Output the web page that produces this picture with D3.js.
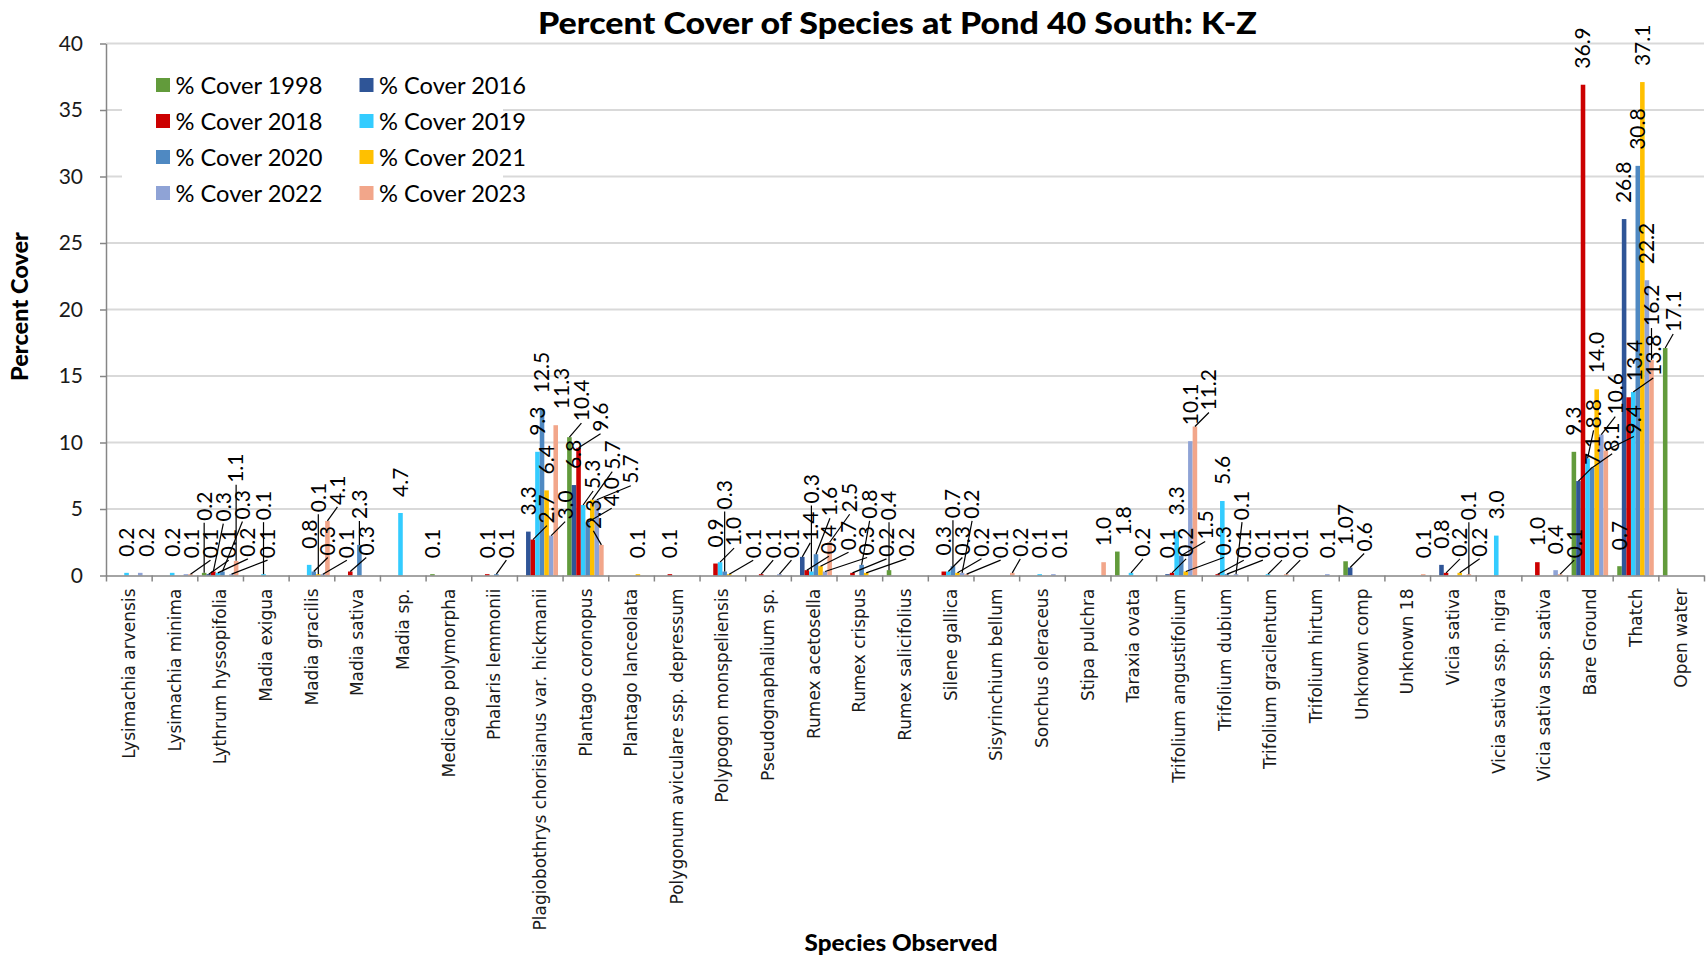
<!DOCTYPE html>
<html>
<head>
<meta charset="utf-8">
<script src="https://cdn.jsdelivr.net/npm/d3@7"></script>
<style>
  body { margin: 0; background: #fff; }
  svg { display: block; }
</style>
</head>
<body>
<svg id="chart" width="1707" height="958"></svg>
<script>
// ---- data ---------------------------------------------------------------
const species = [
  "Lysimachia arvensis", "Lysimachia minima", "Lythrum hyssopifolia", "Madia exigua",
  "Madia gracilis", "Madia sativa", "Madia sp.", "Medicago polymorpha", "Phalaris lemmonii",
  "Plagiobothrys chorisianus var. hickmanii", "Plantago coronopus", "Plantago lanceolata",
  "Polygonum aviculare ssp. depressum", "Polypogon monspeliensis", "Pseudognaphalium sp.",
  "Rumex acetosella", "Rumex crispus", "Rumex salicifolius", "Silene gallica",
  "Sisyrinchium bellum", "Sonchus oleraceus", "Stipa pulchra", "Taraxia ovata",
  "Trifolium angustifolium", "Trifolium dubium", "Trifolium gracilentum", "Trifolium hirtum",
  "Unknown comp", "Unknown 18", "Vicia sativa", "Vicia sativa ssp. nigra",
  "Vicia sativa ssp. sativa", "Bare Ground", "Thatch", "Open water"
];

const seriesNames = [
  "% Cover 1998", "% Cover 2016", "% Cover 2018", "% Cover 2019",
  "% Cover 2020", "% Cover 2021", "% Cover 2022", "% Cover 2023"
];

const seriesColors = ["#629b3b", "#2f5597", "#cc0000", "#33ccff", "#4f89c2", "#ffc000", "#8fa3d6", "#f2a68a"];

const yTicks = [0, 5, 10, 15, 20, 25, 30, 35, 40];

const cover1998 = [0, 0, 0.2, 0, 0, 0, 0, 0.1, 0, 0, 10.4, 0, 0, 0, 0, 0, 0, 0.4, 0, 0, 0, 0, 1.8, 0, 0, 0, 0, 1.07, 0, 0, 0, 0, 9.3, 0.7, 17.1];
const cover2016 = [0, 0, 0.1, 0, 0, 0, 0, 0, 0, 3.3, 6.8, 0, 0, 0, 0, 1.4, 0, 0, 0, 0, 0, 0, 0, 0.1, 0, 0, 0, 0.6, 0, 0.8, 0, 0, 7.1, 26.8, 0];
const cover2018 = [0, 0, 0.3, 0, 0, 0.3, 0, 0, 0.1, 2.7, 9.6, 0, 0.1, 0.9, 0.1, 0.4, 0.2, 0, 0.3, 0, 0, 0, 0, 0.2, 0.1, 0, 0, 0, 0, 0.2, 0, 1.0, 36.9, 13.4, 0];
const cover2019 = [0.2, 0.2, 0.2, 0.1, 0.8, 0, 4.7, 0, 0, 9.3, 5.3, 0, 0, 1.0, 0, 0.3, 0, 0, 0.3, 0, 0.1, 0, 0.2, 3.3, 5.6, 0.1, 0, 0, 0, 0, 3.0, 0, 8.8, 13.8, 0];
const cover2020 = [0, 0, 0.3, 0, 0.3, 2.3, 0, 0, 0.1, 12.5, 4.0, 0, 0, 0.3, 0, 1.6, 0.8, 0, 0.7, 0, 0, 0, 0, 1.5, 0.1, 0, 0, 0, 0, 0, 0, 0, 8.1, 30.8, 0];
const cover2021 = [0, 0, 0, 0, 0.1, 0, 0, 0, 0, 6.4, 5.7, 0.1, 0, 0.1, 0, 0.7, 0.2, 0, 0.2, 0, 0, 0, 0, 0.3, 0, 0, 0, 0, 0, 0.2, 0, 0, 14.0, 37.1, 0];
const cover2022 = [0.2, 0.1, 0.1, 0, 0.1, 0, 0, 0, 0, 3.0, 5.7, 0, 0, 0, 0.1, 0.3, 0, 0, 0.2, 0, 0.1, 0, 0, 10.1, 0.1, 0, 0.1, 0, 0, 0, 0, 0.4, 10.6, 22.2, 0];
const cover2023 = [0, 0.1, 1.1, 0, 4.1, 0, 0, 0, 0, 11.3, 2.3, 0, 0, 0, 0, 2.5, 0, 0, 0.1, 0.2, 0, 1.0, 0, 11.2, 0, 0.1, 0, 0, 0.1, 0.1, 0, 0.1, 9.4, 16.2, 0];

const seriesValues = [cover1998, cover2016, cover2018, cover2019, cover2020, cover2021, cover2022, cover2023];

// ---- layout -------------------------------------------------------------
const plot = { left: 106, right: 1704, top: 43.5, bottom: 575.5 };
const svg = d3.select("#chart");
const SANS = "Lato, 'Open Sans', sans-serif";

const x0 = d3.scaleBand().domain(species).range([plot.left, plot.right]);
const bw = x0.bandwidth();
const x1 = d3.scaleBand().domain(seriesNames).range([bw * 0.1, bw * 0.9]);
const y = d3.scaleLinear().domain([0, 40]).range([plot.bottom, plot.top]);

// horizontal gridlines
svg.append("g").selectAll("line")
  .data(yTicks.filter(t => t > 0))
  .join("line")
  .attr("x1", plot.left).attr("x2", plot.right)
  .attr("y1", d => y(d)).attr("y2", d => y(d))
  .attr("stroke", "#d9d9d9").attr("stroke-width", 2);

// clustered bars
const rows = species.map((s, i) => ({
  species: s,
  values: seriesNames.map((n, j) => ({ series: n, j, v: seriesValues[j][i] }))
}));

const gCat = svg.append("g").selectAll("g")
  .data(rows)
  .join("g")
  .attr("transform", d => `translate(${x0(d.species)},0)`);

gCat.selectAll("rect")
  .data(d => d.values.filter(e => e.v > 0))
  .join("rect")
  .attr("x", e => x1(e.series))
  .attr("width", x1.bandwidth())
  .attr("y", e => y(e.v))
  .attr("height", e => y(0) - y(e.v))
  .attr("fill", e => seriesColors[e.j]);

// y axis
const gy = svg.append("g")
  .attr("transform", `translate(${plot.left},0)`)
  .call(d3.axisLeft(y).tickValues(yTicks).tickSize(6).tickSizeOuter(0).tickPadding(17));
gy.select(".domain").attr("stroke", "#868686").attr("stroke-width", 1.5);
gy.selectAll(".tick line").attr("stroke", "#868686").attr("stroke-width", 1.5);
gy.selectAll(".tick text")
  .attr("font-family", SANS).attr("font-size", 21).attr("fill", "#1a1a1a");

// x axis: boundary ticks between categories
const xb = d3.scaleLinear().domain([0, species.length]).range([plot.left, plot.right]);
const gxb = svg.append("g")
  .attr("transform", `translate(0,${plot.bottom})`)
  .call(d3.axisBottom(xb).tickValues(d3.range(species.length + 1)).tickSize(6).tickSizeOuter(0).tickFormat(""));
gxb.select(".domain").attr("stroke", "#868686").attr("stroke-width", 1.5);
gxb.selectAll(".tick line").attr("stroke", "#868686").attr("stroke-width", 1.5);

// x axis: rotated category names
const gx = svg.append("g")
  .attr("transform", `translate(0,${plot.bottom})`)
  .call(d3.axisBottom(x0).tickSize(0));
gx.select(".domain").remove();
gx.selectAll(".tick text")
  .attr("font-family", "'DejaVu Sans', Verdana, sans-serif")
  .attr("font-size", 17)
  .attr("fill", "#1a1a1a")
  .attr("text-anchor", "end")
  .attr("transform", "rotate(-90)")
  .attr("x", -13).attr("y", 0).attr("dy", "0.36em");

// titles
svg.append("text")
  .attr("x", 897.5).attr("y", 34)
  .attr("text-anchor", "middle")
  .attr("font-family", SANS).attr("font-weight", 900).attr("font-size", 31)
  .attr("textLength", 719).attr("lengthAdjust", "spacingAndGlyphs")
  .text("Percent Cover of Species at Pond 40 South: K-Z");

svg.append("text")
  .attr("transform", "translate(28,306.5) rotate(-90)")
  .attr("text-anchor", "middle")
  .attr("font-family", SANS).attr("font-weight", 900).attr("font-size", 22)
  .attr("textLength", 149).attr("lengthAdjust", "spacingAndGlyphs")
  .text("Percent Cover");

svg.append("text")
  .attr("x", 901).attr("y", 951)
  .attr("text-anchor", "middle")
  .attr("font-family", SANS).attr("font-weight", 900).attr("font-size", 22)
  .attr("textLength", 193).attr("lengthAdjust", "spacingAndGlyphs")
  .text("Species Observed");

// ---- data labels with simple collision avoidance ---------------------------
const fmt = v => {
  const one = d3.format(".1f")(v);
  return Math.abs(+one - v) > 1e-9 ? d3.format(".2f")(v) : one;
};

const LABEL_SIZE = 21;
const probe = svg.append("text")
  .attr("font-family", SANS).attr("font-size", LABEL_SIZE)
  .attr("visibility", "hidden");
const measure = s => { probe.text(s); return probe.node().getComputedTextLength(); };

const labels = [];
rows.forEach(r => r.values.forEach(e => {
  if (e.v > 0) {
    labels.push({
      text: fmt(e.v),
      cx: x0(r.species) + x1(e.series) + x1.bandwidth() / 2,
      top: y(e.v)
    });
  }
}));

const GAP = 16, HALF = 8, PADX = 2, PADY = 7;
const placed = [];
const hits = (a, b) => a.x0 < b.x1 + PADX && a.x1 + PADX > b.x0 && a.y0 < b.y1 + PADY && a.y1 + PADY > b.y0;

labels.forEach(l => {
  const len = measure(l.text);
  let best = null, bestCost = Infinity;
  for (let dy = 0; dy <= 320; dy += 2) {
    if (0.6 * dy >= bestCost) break;
    for (let dx = -44; dx <= 44; dx += 2) {
      const cost = Math.abs(dx) + 0.6 * dy;
      if (cost >= bestCost) continue;
      const cx = l.cx + dx;
      const yb = l.top - GAP - dy;
      const box = { x0: cx - HALF, x1: cx + HALF, y0: yb - len, y1: yb };
      if (box.x1 > plot.right + 2 || box.y0 < 16) continue;
      if (placed.some(p => hits(p, box))) continue;
      best = { cx, yb, box, dx, dy };
      bestCost = cost;
    }
  }
  if (!best) {
    const yb = l.top - GAP;
    best = { cx: l.cx, yb, box: { x0: l.cx - HALF, x1: l.cx + HALF, y0: yb - len, y1: yb }, dx: 0, dy: 0 };
  }
  placed.push(best.box);
  Object.assign(l, best);
});

const gLab = svg.append("g");
gLab.selectAll("line")
  .data(labels.filter(l => Math.hypot(l.dx, l.dy) > 6))
  .join("line")
  .attr("x1", l => l.cx).attr("y1", l => l.yb + 2)
  .attr("x2", l => l.cx - l.dx).attr("y2", l => l.top)
  .attr("stroke", "#000").attr("stroke-width", 1.2);

gLab.selectAll("text")
  .data(labels)
  .join("text")
  .attr("transform", l => `translate(${l.cx},${l.yb}) rotate(-90)`)
  .attr("dy", "0.35em")
  .attr("font-family", SANS).attr("font-size", LABEL_SIZE)
  .attr("fill", "#000")
  .text(l => l.text);

probe.remove();

// ---- legend --------------------------------------------------------------
const gLeg = svg.append("g");
gLeg.append("rect")
  .attr("x", 122).attr("y", 58).attr("width", 381).attr("height", 157)
  .attr("fill", "#fff");
const items = gLeg.selectAll("g.item")
  .data(seriesNames)
  .join("g")
  .attr("class", "item")
  .attr("transform", (d, j) => `translate(${156 + (j % 2) * 203.5},${85 + Math.floor(j / 2) * 36})`);
items.append("rect")
  .attr("x", 0).attr("y", -7).attr("width", 14).attr("height", 14)
  .attr("fill", (d, j) => seriesColors[j]);
items.append("text")
  .attr("x", 19.5).attr("y", 8.5)
  .attr("font-family", SANS).attr("font-size", 23)
  .attr("fill", "#000")
  .attr("textLength", 147).attr("lengthAdjust", "spacingAndGlyphs")
  .text(d => d);
</script>
</body>
</html>
